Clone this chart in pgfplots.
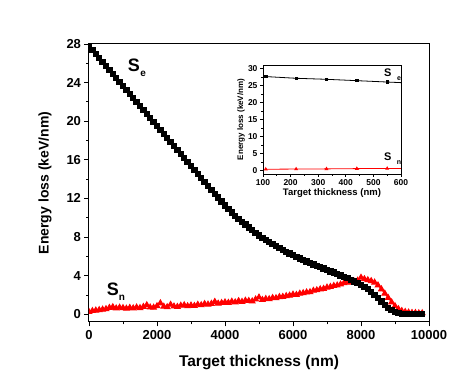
\documentclass[border=0pt]{standalone}
\usepackage{fontspec}
\setmainfont{Liberation Sans}
\usepackage{pgfplots}
\pgfplotsset{compat=1.18}
\usepackage{pgfplotstable}

% electronic stopping S_e vs depth
\pgfplotstableread{
x y
0 27.80
100 27.39
200 26.97
300 26.56
400 26.14
500 25.73
600 25.31
700 24.90
800 24.48
900 24.07
1000 23.65
1100 23.24
1200 22.82
1300 22.41
1400 21.99
1500 21.58
1600 21.16
1700 20.75
1800 20.33
1900 19.92
2000 19.50
2100 19.09
2200 18.67
2300 18.26
2400 17.84
2500 17.43
2600 17.01
2700 16.60
2800 16.18
2900 15.77
3000 15.35
3100 14.94
3200 14.52
3300 14.11
3400 13.69
3500 13.28
3600 12.88
3700 12.48
3800 12.08
3900 11.68
4000 11.28
4100 10.88
4200 10.54
4300 10.21
4400 9.89
4500 9.58
4600 9.28
4700 8.99
4800 8.71
4900 8.44
5000 8.18
5100 7.93
5200 7.70
5300 7.48
5400 7.27
5500 7.06
5600 6.86
5700 6.67
5800 6.48
5900 6.30
6000 6.12
6100 5.95
6200 5.78
6300 5.62
6400 5.46
6500 5.31
6600 5.16
6700 5.01
6800 4.87
6900 4.73
7000 4.59
7100 4.45
7200 4.31
7300 4.17
7400 4.03
7500 3.89
7600 3.73
7700 3.57
7800 3.41
7900 3.24
8000 3.05
8100 2.84
8200 2.60
8300 2.32
8400 2.00
8500 1.66
8600 1.31
8700 0.98
8800 0.68
8900 0.42
9000 0.23
9100 0.11
9200 0.05
9300 0.02
9400 0.01
9500 0.01
9600 0.00
9700 0.00
9800 0.00
}\Se

% nuclear stopping S_n vs depth
\pgfplotstableread{
x y
0 0.25
100 0.35
200 0.40
300 0.45
400 0.50
500 0.55
600 0.68
700 0.75
800 0.62
900 0.70
1000 0.66
1100 0.60
1200 0.68
1300 0.63
1400 0.72
1500 0.66
1600 0.78
1700 0.95
1800 0.72
1900 0.70
2000 0.85
2100 1.15
2200 0.80
2300 0.75
2400 1.00
2500 0.82
2600 0.78
2700 0.90
2800 0.95
2900 0.85
3000 0.92
3100 0.88
3200 1.00
3300 0.95
3400 1.08
3500 1.02
3600 1.10
3700 1.30
3800 1.12
3900 1.18
4000 1.25
4100 1.20
4200 1.32
4300 1.25
4400 1.38
4500 1.30
4600 1.42
4700 1.40
4800 1.35
4900 1.55
5000 1.75
5100 1.50
5200 1.60
5300 1.58
5400 1.70
5500 1.68
5600 1.80
5700 1.82
5800 1.90
5900 1.95
6000 2.05
6100 2.02
6200 2.15
6300 2.20
6400 2.28
6500 2.30
6600 2.45
6700 2.50
6800 2.60
6900 2.65
7000 2.78
7100 2.85
7200 2.95
7300 3.00
7400 3.10
7500 3.25
7600 3.35
7700 3.30
7800 3.40
7900 3.50
8000 3.80
8100 3.65
8200 3.55
8300 3.45
8400 3.30
8500 3.00
8600 2.60
8700 2.15
8800 1.70
8900 1.25
9000 0.85
9100 0.55
9200 0.35
9300 0.25
9400 0.20
9500 0.15
9600 0.15
9700 0.12
9800 0.12
}\Sn

\begin{document}
\begin{tikzpicture}
\path[use as bounding box] (-89pt,-60pt) rectangle (374pt,322pt);

\begin{axis}[
  at={(0pt,0pt)}, anchor=south west,
  scale only axis, width=340pt, height=278pt,
  xmin=0, xmax=10000, ymin=-0.8, ymax=28,
  xtick={0,2000,...,10000}, ytick={0,4,...,28},
  minor x tick num=1, minor y tick num=1,
  tick pos=left, tick align=outside,
  major tick length=4.5pt, minor tick length=2.5pt,
  axis line style={line width=1pt}, tick style={line width=0.9pt, black},
  /pgf/number format/assume math mode=true,
  scaled x ticks=false,
  xticklabel style={/pgf/number format/1000 sep={}},
  ticklabel style={font=\bfseries\fontsize{13}{13}\selectfont},
  xlabel={Target thickness (nm)}, ylabel={Energy loss (keV/nm)},
  xlabel style={font=\bfseries\fontsize{15.5}{15.5}\selectfont, at={(rel axis cs:0.5,0)}, anchor=center, yshift=-41pt},
  ylabel style={font=\bfseries\fontsize{14}{14}\selectfont, at={(rel axis cs:0,0.5)}, anchor=center, yshift=44pt},
  clip marker paths=true,
]
\addplot[red, line width=1pt, mark=triangle*, mark size=3.2pt] table {\Sn};
\addplot[black, line width=1pt, mark=square*, mark size=2.7pt] table {\Se};
\node[font=\bfseries\fontsize{18}{18}\selectfont] at (axis cs:1320,25.8) {S};
\node[font=\bfseries\fontsize{10}{10}\selectfont] at (axis cs:1590,24.9) {e};
\node[font=\bfseries\fontsize{18}{18}\selectfont] at (axis cs:700,2.6) {S};
\node[font=\bfseries\fontsize{10}{10}\selectfont] at (axis cs:970,1.7) {n};
\end{axis}

\begin{axis}[
  at={(174pt,148pt)}, anchor=south west,
  scale only axis, width=138pt, height=109pt,
  xmin=100, xmax=600, ymin=-1, ymax=31,
  xtick={100,200,...,600}, ytick={0,5,...,30},
  minor x tick num=1, minor y tick num=1,
  tick pos=left, tick align=outside,
  major tick length=3pt, minor tick length=1.8pt,
  axis line style={line width=0.8pt}, tick style={line width=0.7pt, black},
  /pgf/number format/assume math mode=true,
  ticklabel style={font=\bfseries\fontsize{8.5}{8.5}\selectfont},
  xticklabel style={yshift=1pt}, yticklabel style={xshift=1pt},
  xlabel={Target thickness (nm)}, ylabel={Energy loss (keV/nm)},
  xlabel style={font=\bfseries\fontsize{9.5}{9.5}\selectfont, at={(rel axis cs:0.5,0)}, anchor=center, yshift=-19pt},
  ylabel style={font=\bfseries\fontsize{8}{8}\selectfont, at={(rel axis cs:0,0.5)}, anchor=center, yshift=22pt},
]
\addplot[black, line width=0.8pt, mark=square*, mark size=1.2pt] coordinates {
  (110,27.6) (220,27.1) (330,26.8) (440,26.4) (550,26.0) (660,25.6)};
\addplot[red, line width=0.8pt, mark=triangle*, mark size=1.5pt] coordinates {
  (110,0.40) (220,0.45) (330,0.50) (440,0.58) (550,0.62) (660,0.66)};
\node[font=\bfseries\fontsize{11}{11}\selectfont] at (axis cs:552,28.6) {S};
\node[font=\bfseries\fontsize{7}{7}\selectfont] at (axis cs:593,27.0) {e};
\node[font=\bfseries\fontsize{11}{11}\selectfont] at (axis cs:552,4.1) {S};
\node[font=\bfseries\fontsize{7}{7}\selectfont] at (axis cs:593,2.3) {n};
\end{axis}
\end{tikzpicture}
\end{document}
